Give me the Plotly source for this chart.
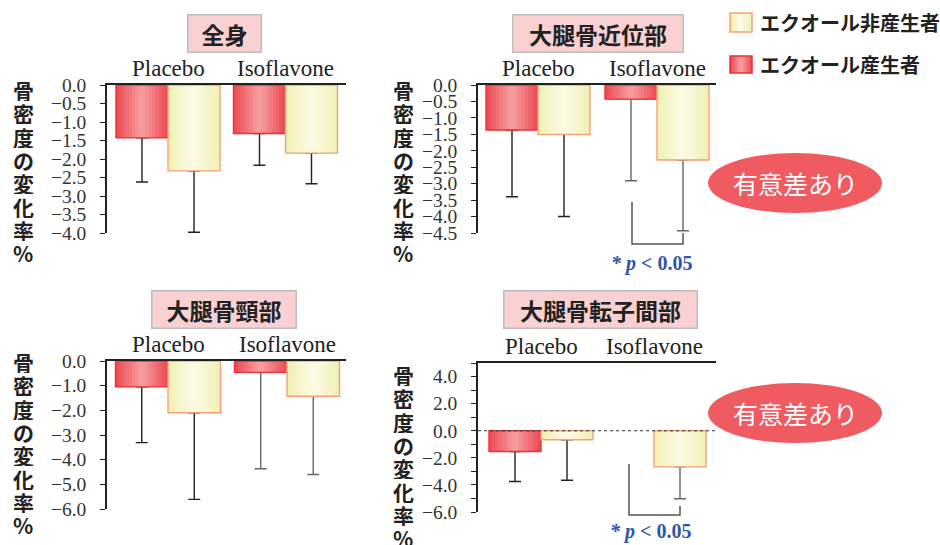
import plotly.graph_objects as go

# ---- data: % change in bone mineral density (mean, SD) ----
groups = ["Placebo", "Isoflavone"]
legend_nonproducer = "エクオール非産生者"
legend_producer = "エクオール産生者"
y_title = "骨密度の変化率%"

titles = ["全身", "大腿骨近位部", "大腿骨頸部", "大腿骨転子間部"]

producer_mean = [
    [-1.43, -1.31],   # 全身
    [-1.37, -0.43],   # 大腿骨近位部
    [-1.05, -0.46],   # 大腿骨頸部
    [-1.53, None],    # 大腿骨転子間部
]
producer_sd = [
    [1.19, 0.86],
    [2.03, 2.48],
    [2.26, 3.91],
    [2.22, None],
]
nonproducer_mean = [
    [-2.32, -1.84],
    [-1.50, -2.28],
    [-2.10, -1.43],
    [-0.67, -2.67],
]
nonproducer_sd = [
    [1.66, 0.83],
    [2.50, 2.15],
    [3.51, 3.17],
    [2.99, 2.35],
]

y_ranges = [[-4.0, 0.0], [-4.5, 0.0], [-6.0, 0.0], [-6.0, 5.0]]
y_dticks = [0.5, 0.5, 1.0, 2.0]
sig_text = "<b><i>* p</i> &lt; 0.05</b>"
sig_badge = "有意差あり"

W, H = 940, 545


def px(x):
    return x / W


def py(y):
    return 1 - y / H


# panel geometry in pixels: x extent, y extent, group centre pixels, bar width px
panels = [
    dict(x=(107, 346), y=(85, 233), c=(168, 285.5), bw=52),
    dict(x=(478, 716), y=(85, 233), c=(538, 657), bw=52),
    dict(x=(107, 346), y=(361, 509), c=(168, 287), bw=52.5),
    dict(x=(478, 716), y=(363, 512), c=(541, 654), bw=52),
]

RED_EDGE, RED_MID, RED_LINE = (237, 78, 86), (245, 155, 158), "#EE2F37"
YEL_EDGE, YEL_MID, YEL_LINE = (241, 240, 182), (251, 251, 228), "#F5A07A"


def mix(a, b, t):
    return "rgb(%d,%d,%d)" % tuple(round(a[i] + (b[i] - a[i]) * t) for i in range(3))


fig = go.Figure()
N_STRIPS = 8


def add_bar(k, xpos, value, sd, center_off, w, edge, mid, line, err_color):
    if value is None:
        return
    xa = "x" if k == 0 else "x%d" % (k + 1)
    ya = "y" if k == 0 else "y%d" % (k + 1)
    # base bar carries the one-sided error bar so the fill strips cover its inner end
    fig.add_trace(go.Bar(
        x=[xpos], y=[value], width=[w], offset=[center_off - w / 2],
        marker=dict(color=mix(edge, mid, 0), line=dict(width=0)),
        error_y=dict(type="data", symmetric=False, array=[0], arrayminus=[sd],
                     color=err_color, thickness=1.4, width=6),
        xaxis=xa, yaxis=ya, showlegend=False, hoverinfo="skip"))
    # horizontal gradient from edges to a lighter centre
    for i in range(1, N_STRIPS):
        frac = 1 - i / N_STRIPS
        fw = w * frac
        fig.add_trace(go.Bar(
            x=[xpos], y=[value], width=[fw], offset=[center_off - fw / 2],
            marker=dict(color=mix(edge, mid, i / (N_STRIPS - 1)), line=dict(width=0)),
            xaxis=xa, yaxis=ya, showlegend=False, hoverinfo="skip"))
    # outline on top
    fig.add_trace(go.Bar(
        x=[xpos], y=[value], width=[w], offset=[center_off - w / 2],
        marker=dict(color="rgba(0,0,0,0)", line=dict(color=line, width=1.4)),
        xaxis=xa, yaxis=ya, showlegend=False, hoverinfo="skip"))


annotations = []
layout_axes = {}
for k, p in enumerate(panels):
    spacing = p["c"][1] - p["c"][0]
    w = p["bw"] / spacing
    x_rng = [(p["x"][0] - p["c"][0]) / spacing, (p["x"][1] - p["c"][0]) / spacing]
    for g in range(2):
        err_col = "#222222" if (k == 0 or g == 0) else "#666666"
        add_bar(k, g, producer_mean[k][g], producer_sd[k][g], -w / 2, w,
                RED_EDGE, RED_MID, RED_LINE, err_col)
        add_bar(k, g, nonproducer_mean[k][g], nonproducer_sd[k][g], w / 2, w,
                YEL_EDGE, YEL_MID, YEL_LINE, err_col)

    sfx = "" if k == 0 else str(k + 1)
    yid = "y" + sfx
    xid = "x" + sfx
    layout_axes["xaxis" + sfx] = dict(
        domain=[px(p["x"][0]), px(p["x"][1])], range=x_rng, anchor=yid,
        side="top", showline=True, linecolor="#222", linewidth=1.5,
        showgrid=False, zeroline=False, ticks="", showticklabels=False,
        automargin=False, fixedrange=True)
    # group names sit just above the top axis line
    for g, name in enumerate(groups):
        annotations.append(dict(
            x=g, xref=xid, y=py(p["y"][0] - 2), yref="paper", text=name,
            showarrow=False, xanchor="center", yanchor="bottom",
            font=dict(family="Liberation Serif", size=23, color="#222")))
    lo, hi = y_ranges[k]
    yax = dict(
        domain=[py(p["y"][1]), py(p["y"][0])], range=[lo, hi], anchor=xid,
        showline=True, linecolor="#222", linewidth=1.5, showgrid=False,
        zeroline=False, ticks="outside", ticklen=5, tickwidth=1.2, tickcolor="#222",
        dtick=y_dticks[k], tick0=0, tickformat=".1f", automargin=False,
        tickfont=dict(family="Liberation Serif", size=19.5, color="#333"),
        ticklabelstandoff=10, fixedrange=True)
    if k == 3:
        yax["minor"] = dict(dtick=1.0, ticks="outside", ticklen=5, tickwidth=1.2,
                            tickcolor="#222", showgrid=False)
    layout_axes["yaxis" + sfx] = yax

shapes = []

# dotted zero line in the intertrochanteric panel
shapes.append(dict(type="line", xref="x4 domain", yref="y4", x0=0, x1=1, y0=0, y1=0,
                   line=dict(color="#333", width=1.2, dash="dot")))

# panel titles in pink boxes
title_boxes = [(224.5, 33.5, 75), (598, 33.5, 172), (224, 309.5, 146), (600.5, 309.5, 195)]
for t, (cx, cy, bwid) in zip(titles, title_boxes):
    annotations.append(dict(
        x=px(cx), y=py(cy), xref="paper", yref="paper", text="<b>%s</b>" % t,
        showarrow=False, xanchor="center", yanchor="middle",
        font=dict(family="Noto Sans CJK JP", size=23, color="#222"),
        bgcolor="#F9D1D2", bordercolor="#BDBDBD", borderwidth=1.5, borderpad=0,
        width=bwid - 3, height=36))

# vertical axis titles, one glyph per row
ytitle_pos = [(23, 90), (403, 90), (23, 362), (403, 375)]
CHAR_STEP = 23.3
for (cx, top) in ytitle_pos:
    for i, ch in enumerate(y_title):
        annotations.append(dict(
            x=px(cx), y=py(top + i * CHAR_STEP), xref="paper", yref="paper",
            text="<b>%s</b>" % ch, showarrow=False, xanchor="center", yanchor="middle",
            height=22, valign="middle",
            font=dict(family="Noto Sans CJK JP", size=21, color="#222")))

# significance brackets and labels
brackets = [
    dict(pts=[(632, 202), (632, 244), (683, 244), (683, 233)], label=(651, 263)),
    dict(pts=[(629, 464), (629, 515), (680, 515), (680, 506)], label=(650, 531)),
]
for b in brackets:
    path = "M " + " L ".join("%f,%f" % (px(x), py(y)) for x, y in b["pts"])
    shapes.append(dict(type="path", xref="paper", yref="paper", path=path,
                       line=dict(color="#555", width=1.5)))
    annotations.append(dict(
        x=px(b["label"][0]), y=py(b["label"][1]), xref="paper", yref="paper",
        text=sig_text, showarrow=False, xanchor="center", yanchor="middle",
        font=dict(family="Liberation Serif", size=20, color="#2E56A6")))

# red badges
for cy in (183, 413):
    shapes.append(dict(type="circle", xref="paper", yref="paper",
                       x0=px(708), x1=px(882), y0=py(cy + 30), y1=py(cy - 30),
                       fillcolor="#F05A61", line=dict(width=0)))
    annotations.append(dict(
        x=px(795), y=py(cy), xref="paper", yref="paper", text=sig_badge,
        showarrow=False, xanchor="center", yanchor="middle",
        font=dict(family="Noto Sans CJK JP", size=25, color="white")))

# legend swatches
def swatch(x0, y0, x1, y1, edge, mid, line):
    n = 5
    for i in range(n):
        inset = (x1 - x0) / 2 * i / n
        shapes.append(dict(type="rect", xref="paper", yref="paper",
                           x0=px(x0 + inset), x1=px(x1 - inset), y0=py(y1), y1=py(y0),
                           fillcolor=mix(edge, mid, i / (n - 1)), line=dict(width=0)))
    shapes.append(dict(type="rect", xref="paper", yref="paper",
                       x0=px(x0), x1=px(x1), y0=py(y1), y1=py(y0),
                       fillcolor="rgba(0,0,0,0)", line=dict(color=line, width=1.5)))


swatch(730, 13, 752, 32, YEL_EDGE, YEL_MID, YEL_LINE)
swatch(730, 56, 752, 73, RED_EDGE, RED_MID, RED_LINE)
for txt, cy in ((legend_nonproducer, 22), (legend_producer, 64)):
    annotations.append(dict(
        x=px(758), y=py(cy), xref="paper", yref="paper", text="<b>%s</b>" % txt,
        showarrow=False, xanchor="left", yanchor="middle",
        font=dict(family="Noto Sans CJK JP", size=20, color="#222")))

fig.update_layout(
    width=W, height=H,
    margin=dict(l=0, r=0, t=0, b=0, pad=0, autoexpand=False),
    paper_bgcolor="white", plot_bgcolor="white",
    barmode="overlay", showlegend=False,
    shapes=shapes, annotations=annotations,
    **layout_axes)

fig.write_html("out.html", config={"displayModeBar": False})
